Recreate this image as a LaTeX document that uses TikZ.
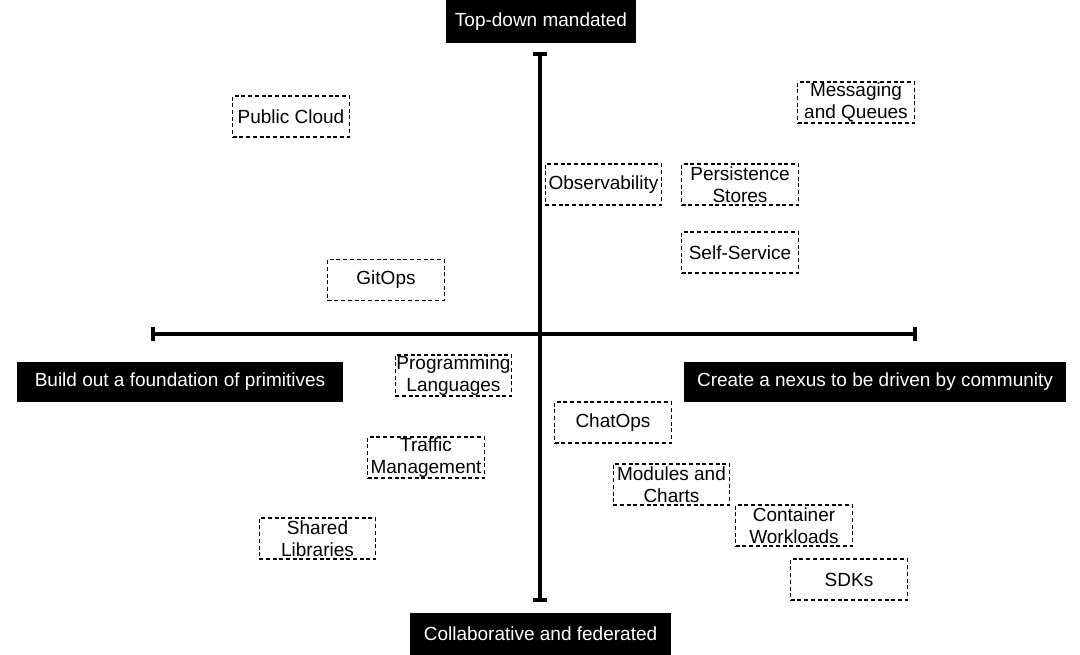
\documentclass[tikz,border=0pt]{standalone}
\usepackage{fontspec}
\setmainfont{Liberation Sans}
\begin{document}
\begin{tikzpicture}[x=1pt,y=-1pt,
  dbox/.style={draw, dash pattern=on 4pt off 2.7pt, line width=1.35pt,
    minimum width=116.5pt, minimum height=41pt, inner sep=0pt,
    align=center, font=\fontsize{19}{22}\selectfont},
  bbox/.style={fill=black, text=white, inner sep=0pt,
    font=\fontsize{19}{22}\selectfont},
  axisline/.style={line width=3.5pt},
  tickline/.style={line width=3.5pt}]
\useasboundingbox (0,0) rectangle (1080,655);

% axes
\coordinate (ytop) at (540,54);
\coordinate (ybot) at (540,600);
\coordinate (xleft) at (153,334);
\coordinate (xright) at (915,334);
\draw[axisline] (ytop) -- (ybot);
\draw[axisline] (xleft) -- (xright);
\draw[tickline] ([xshift=-7pt]ytop) -- ([xshift=7pt]ytop);
\draw[tickline] ([xshift=-7pt]ybot) -- ([xshift=7pt]ybot);
\draw[tickline] ([yshift=-7pt]xleft) -- ([yshift=7pt]xleft);
\draw[tickline] ([yshift=-7pt]xright) -- ([yshift=7pt]xright);

% axis labels
\node[bbox, minimum width=190pt, minimum height=43pt] (tlab) at (541,21.5) {Top-down mandated};
\node[bbox, minimum width=261pt, minimum height=42pt] (blab) at (540.5,634) {Collaborative and federated};
\node[bbox, minimum width=326pt, minimum height=40pt] (llab) at (180,382) {Build out a foundation of primitives};
\node[bbox, minimum width=382pt, minimum height=40pt] (rlab) at (875,382) {Create a nexus to be driven by community};

% items
\node[dbox] (pc) at (291,116.5) {Public Cloud};
\node[dbox] (git) at (386,280) {GitOps};
\node[dbox] (mq) at (856,102.5) {Messaging\\and Queues};
\node[dbox] (obs) at (603.5,184.5) {Observability};
\node[dbox] (ps) at (740,184.5) {Persistence\\Stores};
\node[dbox] (ss) at (740,252.5) {Self-Service};
\node[dbox] (pl) at (453.5,375.5) {Programming\\Languages};
\node[dbox] (tm) at (426,457.5) {Traffic\\Management};
\node[dbox] (sl) at (317.5,538.5) {Shared\\Libraries};
\node[dbox] (co) at (613,422.5) {ChatOps};
\node[dbox] (mc) at (671.5,484.5) {Modules and\\Charts};
\node[dbox] (cw) at (794,525.5) {Container\\Workloads};
\node[dbox] (sdk) at (849,579.5) {SDKs};
\end{tikzpicture}
\end{document}
